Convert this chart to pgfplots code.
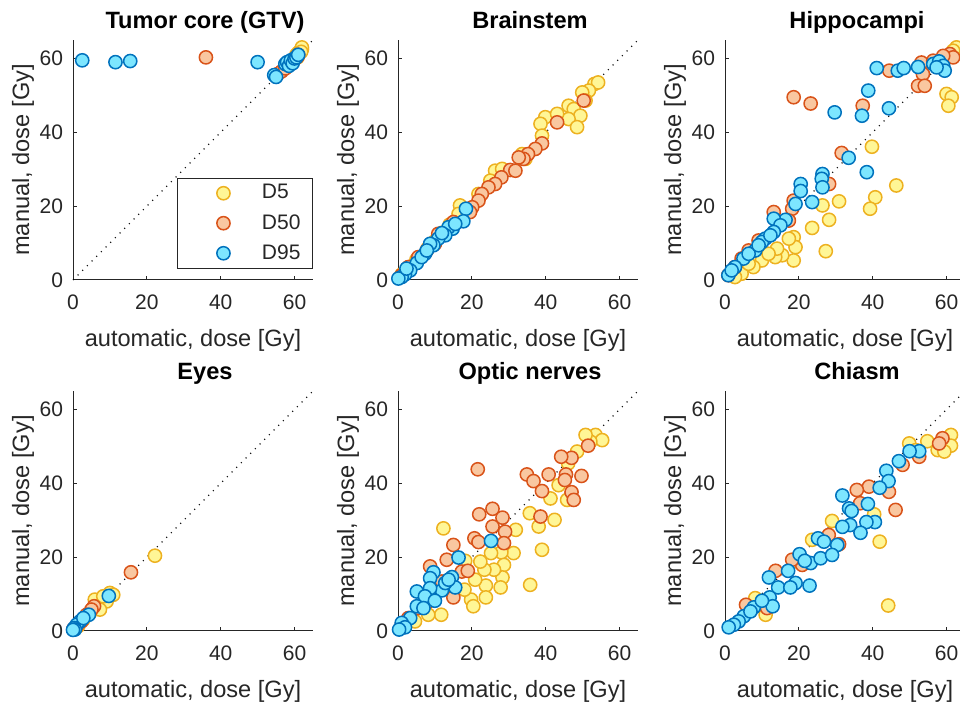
\documentclass[border=0pt]{standalone}
\usepackage{fontspec}
\setmainfont{Liberation Sans}
\usepackage{pgfplots}
\pgfplotsset{compat=1.18}

\definecolor{axgray}{RGB}{38,38,38}
\definecolor{yfill}{RGB}{255,246,150}
\definecolor{yedge}{RGB}{237,177,32}
\definecolor{ofill}{RGB}{249,199,160}
\definecolor{oedge}{RGB}{217,83,25}
\definecolor{bfill}{RGB}{125,230,255}
\definecolor{bedge}{RGB}{0,114,189}

\pgfplotsset{
  panel/.style={
    scale only axis, width=120pt, height=120pt,
    anchor=south west,
    xmin=0, xmax=65, ymin=0, ymax=65,
    xtick={0,20,40,60}, ytick={0,20,40,60},
    axis x line=bottom, axis y line=left,
    axis line style={-, draw=axgray, line width=0.5pt},
    tick align=inside, major tick length=2pt,
    tick style={draw=axgray, line width=0.5pt},
    clip=false,
    /pgf/number format/assume math mode=true,
    ticklabel style={font=\fontsize{10.5}{12}\selectfont, text=axgray},
    xticklabel shift=4pt, yticklabel shift=1.5pt,
    label style={font=\fontsize{11.8}{13}\selectfont, text=axgray},
    xlabel={automatic, dose [Gy]}, ylabel={manual, dose [Gy]},
    xlabel style={at={(axis description cs:0.5,0)}, anchor=north, yshift=-21pt},
    % ylabel is already turned by 90 degrees, so yshift moves it to the left
    ylabel style={at={(axis description cs:0,0.5)}, anchor=center, yshift=25pt},
    every axis title shift=0pt,
    title style={font=\fontsize{11.8}{13}\selectfont\bfseries, at={(axis description cs:0.55,1)}, anchor=base, yshift=6pt},
  },
  d5/.style={only marks, mark=*, mark size=3.3pt, mark options={fill=yfill, draw=yedge, line width=0.75pt}},
  d50/.style={only marks, mark=*, mark size=3.3pt, mark options={fill=ofill, draw=oedge, line width=0.75pt}},
  d95/.style={only marks, mark=*, mark size=3.3pt, mark options={fill=bfill, draw=bedge, line width=0.75pt}},
  ident/.style={black, line width=0.55pt, dash pattern=on 0.5pt off 2.8pt, no marks},
}

\begin{document}
\begin{tikzpicture}

% ---- Tumor core (GTV)
\begin{axis}[panel, at={(36.5pt,211pt)}, title={Tumor core (GTV)},
  legend style={at={(axis description cs:1,0)}, anchor=south east, yshift=5.5pt,
    draw=axgray, line width=0.5pt, font=\fontsize{10.5}{12}\selectfont, text=axgray,
    inner xsep=4pt, inner ysep=1.2pt, row sep=2.2pt,
    /tikz/every even column/.append style={column sep=6pt}},
  legend cell align=left,
  legend image code/.code={\path (-18.5pt,0pt) (17pt,0pt); \draw[#1] plot coordinates {(0pt,0pt)};}]
\addplot[d5] coordinates {(60.5,61) (61,61.5) (61.5,62) (62,62.5) (62,63) (61.8,61.8) (60.8,60.3)};
\addplot[d50] coordinates {(36,60.3) (55.5,55.8) (56.5,56.5) (57.5,57.3) (58.5,58.2) (59.5,59.3) (60.3,60.1) (61,61) (60.8,60.5)};
\addplot[d95] coordinates {(2.5,59.5) (11.5,59) (15.5,59.3) (50,59) (54.5,55.5) (55,55) (57.5,58.5) (58,59) (58.5,58) (59,59.5) (59.5,58.7) (60,60) (60.5,60.3) (61,61)};
\addplot[ident] coordinates {(0,0) (65,65)};
\legend{D5,D50,D95}
\end{axis}

% ---- Brainstem
\begin{axis}[panel, at={(199pt,211pt)}, title={Brainstem}]
\addplot[d5] coordinates {(53.2,53.1) (54.2,53.5) (51.7,51.3) (49.9,50.8) (50.8,48.6) (46.2,47.2) (47.6,46.3) (49.4,44.5) (46.2,43.6) (48.5,41.4) (39.9,44.1) (38.6,42.3) (43.1,45) (39,39.1) (33.6,34.1) (34.5,32.8) (26.3,29.6) (28.2,30.1) (25,26.9) (21.8,23.3) (16.8,20.2) (16.4,17.9) (1,1.5) (3,3.5) (5,5.5) (8,8.5) (10,10.5) (12,12.8) (14,15)};
\addplot[d50] coordinates {(50.3,48.6) (43.1,42.7) (39,37) (37.2,35.5) (35.2,34.1) (34,32.8) (32.7,33.2) (30.4,29.8) (31.8,29.6) (28,27.8) (26.3,26) (24.5,25.1) (22.7,23.3) (21.8,21.5) (20.1,19.7) (19.5,18.4) (15,15.7) (14.1,13.9) (10.9,12.5) (10,9.8) (7.8,8) (5.5,6.2) (2.8,3.5) (1,1.3)};
\addplot[d95] coordinates {(18.4,19.3) (17.7,15.9) (14.8,13.9) (13.7,14.3) (12.8,12.1) (10.9,11.2) (9.6,9.4) (8.7,9.8) (7.3,7.1) (5.1,4.6) (3.3,2.6) (1.9,1.5) (1,0.8) (0.1,0.4) (2.3,3.1) (6.4,6.2) (7.8,8) (11.9,12.7) (15.5,15.2)};
\addplot[ident] coordinates {(0,0) (65,65)};
\end{axis}

% ---- Hippocampi
\begin{axis}[panel, at={(362.5pt,211pt)}, title={Hippocampi}]
\addplot[d5] coordinates {(62.7,63) (61.8,62.1) (60,50.4) (61.4,49.5) (60.5,47.2) (39.8,36.1) (46.4,25.6) (40.7,22.4) (39.3,19.3) (30.9,21.3) (26.4,20.2) (28.2,16.3) (23.6,14.1) (27.3,7.8) (18.6,11.6) (19.1,8.9) (18.6,5.3) (15.5,6.7) (13.6,6.2) (14.1,8.5) (17.3,11.2) (10,5.3) (7.7,3.5) (4.5,1.7) (6.4,4.4) (11.8,7.1) (2.7,0.8)};
\addplot[d50] coordinates {(18.6,49.5) (23.2,47.8) (44.5,56.7) (53.2,58.9) (53.6,55.8) (52.3,52.6) (54.1,52.6) (60.9,61.2) (61.8,60.3) (37.3,47.2) (31.6,34.4) (28.2,26) (18.6,21.5) (18.2,19.3) (13.2,18.4) (17.3,16.1) (9.1,10.7) (6.4,8) (4.5,5.8) (2.7,3.5) (0.9,1.3) (56.4,59.4) (59.1,60.7)};
\addplot[d95] coordinates {(41.1,57.4) (46.8,56.7) (48.4,57.4) (52.3,57.7) (56.4,58.5) (58,59.2) (59.1,58) (59.5,56.7) (57.3,57.6) (38.8,51.3) (44.4,46.5) (29.7,45.4) (37.1,44.5) (33.5,33.1) (38.4,29.2) (26.4,28.7) (26.2,27.4) (26.4,25.1) (20.5,26) (20.5,24.1) (19.1,20.6) (23.6,21.1) (16.4,16.3) (13.2,16.6) (15,14.8) (13.2,13) (10.9,11.2) (10,10.3) (8.2,8) (5,5.8) (2.7,3.5) (0.9,1.3) (1.8,2.6) (6.4,7.1) (9.1,9.4) (12.3,12.1)};
\addplot[ident] coordinates {(0,0) (65,65)};
\end{axis}

% ---- Eyes
\begin{axis}[panel, at={(36.5pt,35.5pt)}, title={Eyes}]
\addplot[d5] coordinates {(22.2,20.4) (10,10.3) (10.9,9.8) (9.1,8) (5.9,8.5) (6.4,6.7) (4.6,4.9) (2.8,3.1) (1.4,1.3) (0.5,0.8) (8.2,9.4) (7.3,5.8)};
\addplot[d50] coordinates {(15.7,15.9) (5.7,6.7) (5,5.8) (3.7,4.4) (2.3,2.6) (1,1.3) (0.1,0.5)};
\addplot[d95] coordinates {(9.7,9.5) (4.3,4.4) (1.9,2.6) (1,1.7) (0.3,0.8) (0.5,0.4) (2.8,3.5) (0,0.3)};
\addplot[ident] coordinates {(0,0) (65,65)};
\end{axis}

% ---- Optic nerves
\begin{axis}[panel, at={(199pt,35.5pt)}, title={Optic nerves}]
\addplot[d5] coordinates {(53.5,53.1) (55.3,51.7) (52.1,51.3) (50.8,53.1) (48.5,48.6) (46.1,45.4) (43.5,39.5) (41.3,35.9) (45.8,35.5) (42.4,30.1) (38.1,28.3) (35.7,31.9) (31.9,27.4) (39,22) (35.8,12.5) (12.3,27.8) (31.3,21.1) (28,21.3) (25.2,21.1) (28.7,17.9) (28.3,14.5) (27.8,11.8) (23.8,12.3) (23.8,9.1) (26,16.6) (23.4,16.6) (19.8,8.5) (20.4,6.7) (18,11.2) (22.3,18.8) (18.2,19) (15.3,11.6) (11.7,4.4) (8.2,4.4) (4.6,2.6) (20.9,13.9)};
\addplot[d50] coordinates {(21.6,43.8) (51.5,50.2) (47,46.9) (44.2,47.2) (34.9,42.4) (36.7,40.6) (40.8,42.4) (39,37.9) (45.5,42.4) (45.2,40.9) (49.7,42) (47,37.6) (47.6,35.5) (38.6,31) (25.6,33.1) (22,31.6) (28.3,30.7) (25.6,28.3) (29,26.9) (28.7,23.8) (20.7,25.1) (21.8,24.1) (15,23.3) (13.2,19.3) (17.3,16.1) (18.9,16.3) (8.7,17.5) (15,9.1) (11.9,13.4) (8.2,8) (5.5,6.2) (2.8,3.5) (1,1.5)};
\addplot[d95] coordinates {(25.2,24.4) (16.4,19.9) (9.6,15.9) (8.7,14.3) (14.6,14.6) (15.5,11.8) (11.9,11) (8.7,11.6) (5.1,10.7) (7.3,9.4) (10,8.2) (5.1,6.7) (3.3,3.5) (1,2.2) (1.9,1) (0.3,0.4) (6.9,6.2) (12.8,13) (13.7,13.9)};
\addplot[ident] coordinates {(0,0) (65,65)};
\end{axis}

% ---- Chiasm
\begin{axis}[panel, at={(362.5pt,35.5pt)}, title={Chiasm}]
\addplot[d5] coordinates {(61.2,53.1) (61.2,50.2) (57.6,49) (54.8,51.4) (49.9,50.8) (44.2,6.9) (41.9,24.2) (40.4,31.6) (29,29.8) (23.6,24.7) (18.6,18.8) (11,4.4) (8.2,8.9) (51.7,49) (59.4,48.6)};
\addplot[d50] coordinates {(58.9,52.2) (58,50.8) (52.6,47.2) (48.1,45) (46.2,32.8) (39,39.1) (35.7,38.2) (36.6,34.6) (30.9,23.5) (28.1,26) (13.7,16.3) (11.4,6.2) (5.7,7.1) (20.9,17.9) (44.4,37.7) (18.2,19.3)};
\addplot[d95] coordinates {(52.6,48.7) (50,48.7) (47.1,46) (43.7,43.4) (44.3,40.6) (41.9,38.8) (31.8,36.7) (33.6,33.2) (34.3,32.5) (38.7,34.4) (40.6,29.5) (38.3,29.5) (33.9,28.7) (31.8,28.2) (36.7,26.6) (25.2,25.1) (30.4,23.3) (26.8,24.2) (20.2,20.8) (23.2,18.4) (25.9,19.7) (29,20.6) (21.6,19) (22.9,12.3) (19.1,13) (17.1,16.3) (11.9,14.5) (14.4,11.8) (17.7,11.8) (12.1,9.1) (12.9,6.7) (7.8,6.4) (5.1,4) (3.7,2.6) (2.4,1.7) (1,1) (6.9,5.3) (10,8.2)};
\addplot[ident] coordinates {(0,0) (65,65)};
\end{axis}

\pgfresetboundingbox
\path[use as bounding box] (0pt,0pt) rectangle (480pt,351pt);
\end{tikzpicture}
\end{document}
